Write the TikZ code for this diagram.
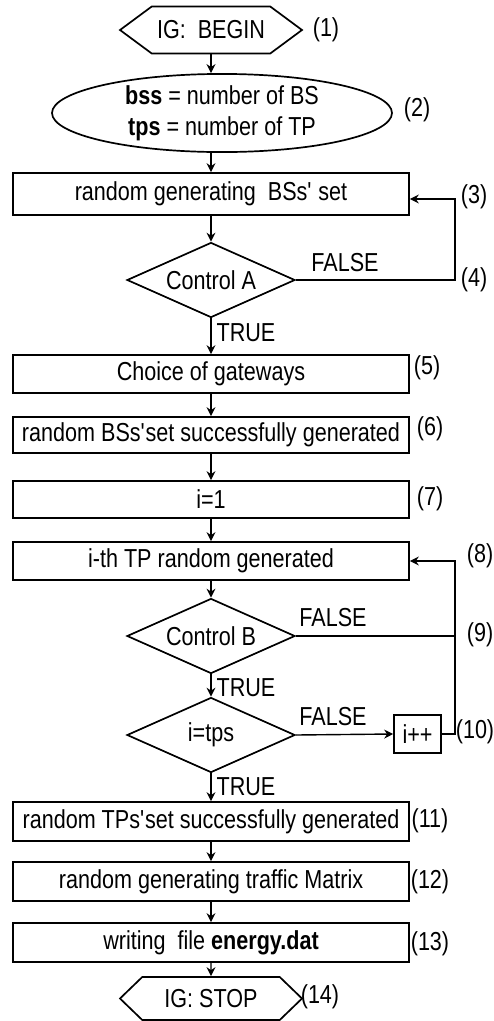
\documentclass[tikz,border=0pt]{standalone}
\usepackage{fontspec}
\setmainfont{Liberation Sans}[FakeStretch=0.83]
\usetikzlibrary{shapes.geometric,shapes.symbols,arrows.meta}

\begin{document}
\begin{tikzpicture}[
			x=1pt,
			y=-1pt,
			line width=1.7pt,
			font=\fontsize{26}{31}\selectfont,
			>={Stealth[length=9pt,width=9pt,inset=3pt]},
			khoi/.style={draw,rectangle,inner sep=0pt,minimum width=396pt,minimum height=38pt},
			hoi/.style={draw,diamond,aspect=2.25,inner sep=0pt,minimum width=168pt,minimum height=75pt},
			bien/.style={draw,signal,signal to=west and east,inner sep=0pt,minimum width=182pt},
			nhan/.style={inner sep=0pt},
			noi/.style={MauVien,line width=1.4pt}
		]
			% ===== MÀU SẮC =====
			\definecolor{MauVien}{RGB}{0,0,0}
			\def\Nhay{\textquotesingle}

			% ===== KHUNG =====
			\useasboundingbox (0,0) rectangle (494,1021);

			% ===== CÁC KHỐI =====
			\node[bien,signal pointer angle=73,minimum height=47pt] (Begin) at (211,30) {IG:\ \ BEGIN};
			\node[draw,ellipse,inner sep=0pt,minimum width=340pt,minimum height=74pt,align=center]
				(Vars) at (222,113) {\textbf{bss} = number of BS\\\textbf{tps} = number of TP};
			\node[khoi,minimum height=42pt] (GenBS) at (211,194) {random generating\ \ BSs\Nhay\ set};
			\node[hoi] (CtrlA) at (211,280) {Control A};
			\node[khoi] (Gateways) at (211,374) {Choice of gateways};
			\node[khoi,minimum height=36pt] (BSsOk) at (211,435) {random BSs\Nhay set successfully generated};
			\node[khoi,minimum height=37pt] (InitI) at (211,499.5) {i=1};
			\node[khoi] (GenTP) at (211,561) {i-th TP random generated};
			\node[hoi] (CtrlB) at (211,636) {Control B};
			\node[hoi] (LastI) at (211,735) {i=tps};
			\node[draw,rectangle,inner sep=0pt,minimum width=47pt,minimum height=38pt] (IncI) at (417.5,734) {i++};
			\node[khoi,minimum height=39pt] (TPsOk) at (211,821.5) {random TPs\Nhay set successfully generated};
			\node[khoi,minimum height=39pt] (Traffic) at (211,881.5) {random generating traffic Matrix};
			\node[khoi,minimum height=39pt] (Write) at (211,942.5) {writing\ \ file \textbf{energy.dat}};
			\node[bien,signal pointer angle=88,minimum height=43pt] (Stop) at (211,998.5) {IG: STOP};

			% ===== NHÃN =====
			\node[nhan] (L1) at (326,30) {(1)};
			\node[nhan] (L2) at (417,110) {(2)};
			\node[nhan] (L3) at (474,197) {(3)};
			\node[nhan] (L4) at (474,280) {(4)};
			\node[nhan] (L5) at (427,368) {(5)};
			\node[nhan] (L6) at (430,429) {(6)};
			\node[nhan] (L7) at (430,499) {(7)};
			\node[nhan] (L8) at (480,556) {(8)};
			\node[nhan] (L9) at (480,635) {(9)};
			\node[nhan] (L10) at (475,732) {(10)};
			\node[nhan] (L11) at (430,821) {(11)};
			\node[nhan] (L12) at (430,882) {(12)};
			\node[nhan] (L13) at (430,944) {(13)};
			\node[nhan] (L14) at (320,997) {(14)};

			\node[nhan] (FalseA) at (345,263) {FALSE};
			\node[nhan] (TrueA) at (246,333) {TRUE};
			\node[nhan] (FalseB) at (333,618) {FALSE};
			\node[nhan] (TrueB) at (246,688) {TRUE};
			\node[nhan] (FalseI) at (333,717) {FALSE};
			\node[nhan] (TrueI) at (246,787) {TRUE};

			% ===== ĐIỂM VÒNG LẶP =====
			\coordinate (VongA) at (455,199);
			\coordinate (VongB) at (455,734);

			% ===== MŨI TÊN =====
			\draw[->,noi] (Begin.south) -- (Begin.south |- Vars.north);
			\draw[->,noi] (Vars.south -| GenBS.north) -- (GenBS.north);
			\draw[->,noi] (GenBS) -- (CtrlA);
			\draw[->,noi] (CtrlA.east) -| (VongA) -- (GenBS.east |- VongA);
			\draw[->,noi] (CtrlA) -- (Gateways);
			\draw[->,noi] (Gateways) -- (BSsOk);
			\draw[->,noi] (BSsOk) -- (InitI);
			\draw[->,noi] (InitI) -- (GenTP);
			\draw[->,noi] (GenTP) -- (CtrlB);
			\draw[noi] (CtrlB.east) -- (CtrlB.east -| VongB);
			\draw[->,noi] (CtrlB) -- (LastI);
			\draw[->,noi] (LastI.east) -- (IncI.west);
			\draw[->,noi] (IncI.east) -- (VongB) |- (GenTP.east);
			\draw[->,noi] (LastI) -- (TPsOk);
			\draw[->,noi] (TPsOk) -- (Traffic);
			\draw[->,noi] (Traffic) -- (Write);
			\draw[->,noi] (Write) -- (Stop);

		\end{tikzpicture}
\end{document}
